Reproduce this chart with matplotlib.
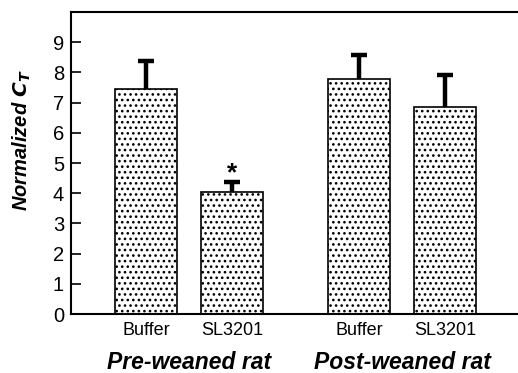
import matplotlib
matplotlib.use("Agg")
import matplotlib.pyplot as plt
import numpy as np

plt.rcParams['font.family'] = ['Liberation Sans', 'DejaVu Sans']
plt.rcParams['hatch.linewidth'] = 1.1

categories = ["Buffer", "SL3201", "Buffer", "SL3201"]
groups = ["Pre-weaned rat", "Post-weaned rat"]
values = [7.45, 4.03, 7.79, 6.86]
errors = [0.93, 0.33, 0.79, 1.06]
positions = [1.0, 2.0, 3.47, 4.47]
yticks = list(range(0, 10))

fig = plt.figure(figsize=(5.18, 3.73), dpi=100)
ax = fig.add_axes([0.137, 0.158, 0.863, 0.810])

bars = ax.bar(positions, values, width=0.72, color='white', edgecolor='black',
              linewidth=1.2, hatch='...', zorder=2)
eb = ax.errorbar(positions, values, yerr=[[0]*4, errors], fmt='none', ecolor='black',
                 elinewidth=3.2, capsize=5.5, capthick=3.2, zorder=3)
# keep only the upper caps
eb[1][0].set_visible(False)

ax.text(positions[1], values[1] + errors[1] + 0.3, '*', ha='center', va='center',
        fontsize=19, fontweight='bold')

ax.set_xlim(0.128, 5.314)
ax.set_ylim(0, 10)
ax.set_yticks(yticks)
ax.set_yticklabels([str(t) for t in yticks], fontsize=14.5)
ax.tick_params(axis='y', direction='in', length=7, width=1.2, pad=5)
ax.set_xticks(positions)
ax.set_xticklabels(categories, fontsize=13)
ax.tick_params(axis='x', length=0, pad=6)

for s in ['top', 'left', 'bottom']:
    ax.spines[s].set_linewidth(1.5)
ax.spines['right'].set_visible(False)

ax.set_ylabel('Normalized $\\mathbfit{C}_{\\mathbfit{T}}$', fontsize=14.5,
              fontweight='bold', fontstyle='italic')
ax.yaxis.set_label_coords(-0.086, 0.575)

for g, (a, b) in zip(groups, [(0, 1), (2, 3)]):
    xc = (positions[a] + positions[b]) / 2
    ax.text(xc, -0.122, g, transform=ax.get_xaxis_transform(), ha='center',
            va='top', fontsize=16.5, fontweight='bold', fontstyle='italic')

fig.savefig('out.png', dpi=100)
